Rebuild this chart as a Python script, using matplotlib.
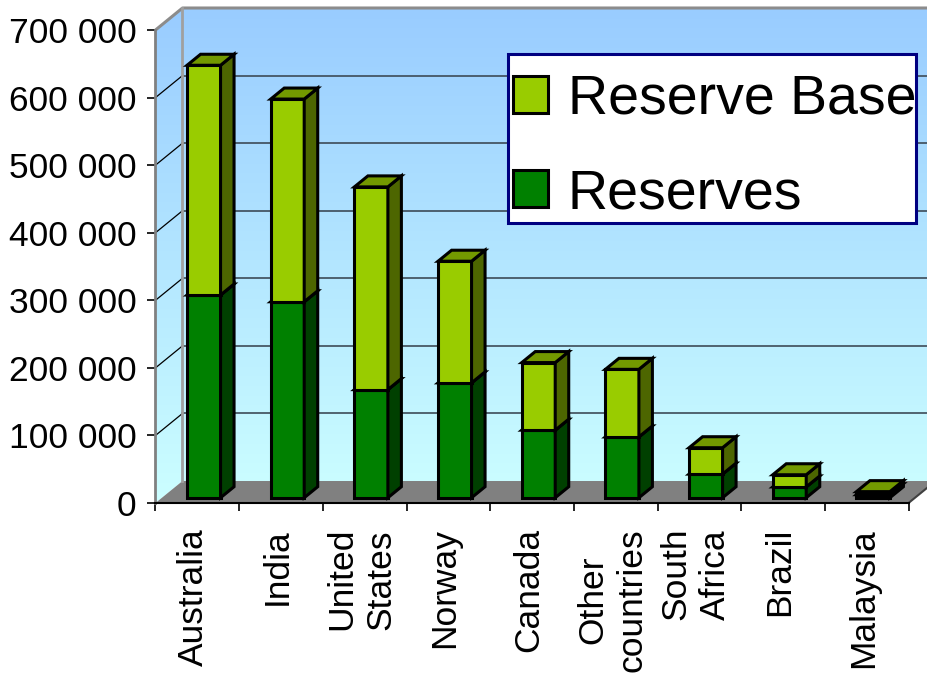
import matplotlib
matplotlib.use("Agg")
import matplotlib.pyplot as plt
import numpy as np
from matplotlib.patches import Polygon, Rectangle
from matplotlib.colors import LinearSegmentedColormap
from matplotlib.ticker import FuncFormatter
from matplotlib.transforms import ScaledTranslation

plt.rcParams['font.family'] = ['Liberation Sans', 'DejaVu Sans']

# Thorium reserves and reserve base by country (tonnes)
countries = ["Australia", "India", "United\nStates", "Norway", "Canada",
             "Other\ncountries", "South\nAfrica", "Brazil", "Malaysia"]
reserves = [300000, 290000, 160000, 170000, 100000, 90000, 35000, 16000, 4500]
reserve_base = [340000, 300000, 300000, 180000, 100000, 100000, 39000, 18000, 4500]
value_ticks = [0, 100000, 200000, 300000, 400000, 500000, 600000, 700000]

W, H = 927, 673
fig = plt.figure(figsize=(W / 100, H / 100), dpi=100)
ax = fig.add_axes([0, 0, 1, 1])

# pixel scale of the front plane
CAT_PX = 83.67
VAL_PX = 473 / 700000
OX, OY = 155.5, 503
ax.set_xlim(-0.5 - OX / CAT_PX, -0.5 + (W - OX) / CAT_PX)
ax.set_ylim(-(H - OY) / VAL_PX, OY / VAL_PX)

# depth of the 3-D box
DX = 27 / CAT_PX
DY = 22 / VAL_PX

n = len(countries)
x = np.arange(n)
res = np.array(reserves, dtype=float)
base = np.array(reserve_base, dtype=float)
ymax = value_ticks[-1]
x0, x1 = -0.5, n - 0.5

# walls with vertical gradient
wall = Polygon([(x0, 0), (x0 + DX, DY), (x1 + DX, DY), (x1 + DX, ymax + DY),
                (x0 + DX, ymax + DY), (x0, ymax)], closed=True,
               fc='none', ec='none', transform=ax.transData)
ax.add_patch(wall)
cmap = LinearSegmentedColormap.from_list("wall", ["#CCFFFF", "#99CCFF"])
im = ax.imshow(np.linspace(0, 1, 256).reshape(-1, 1), cmap=cmap,
               extent=(x0, x1 + DX, 0, ymax + DY), origin='lower',
               aspect='auto', interpolation='bilinear', zorder=0.5)
im.set_clip_path(wall)

# gridlines on the back and side walls
for v in value_ticks[1:-1]:
    ax.plot([x0 + DX, x1 + DX], [v + DY, v + DY], color='#3d4b58', lw=1.2, zorder=0.8)
    ax.plot([x0, x0 + DX], [v, v + DY], color='black', lw=0.9, zorder=0.8)

# floor
ax.add_patch(Polygon([(x0, 0), (x1, 0), (x1 + DX, DY), (x0 + DX, DY)],
                     closed=True, fc='#808080', ec='none', zorder=0.9))
ax.plot([x1, x1 + DX], [0, DY], color='#404040', lw=1.5, zorder=1)

# wall borders
ax.plot([x0, x0 + DX, x1 + DX + 1], [ymax, ymax + DY, ymax + DY],
        color='#8c8c8c', lw=2.2, zorder=1, solid_capstyle='butt')
ax.plot([x0 + DX, x0 + DX], [DY, ymax + DY], color='#a0a0a0', lw=2.0, zorder=1)

# bars
BW = 0.40
F0, F1 = 0.24, 0.74
ddx, ddy = (F1 - F0) * DX, (F1 - F0) * DY
EDGE = dict(edgecolor='black', linewidth=2.2, joinstyle='miter')

series = [
    (np.zeros(n), res, '#008000', '#004000', '#006600'),
    (res, base, '#99CC00', '#4D6600', '#739900'),
]
for bottoms, heights, c_front, c_side, c_top in series:
    ax.bar(x + F0 * DX, heights, bottom=bottoms + F0 * DY, width=BW,
           color=c_front, zorder=3, **EDGE)
    for xc, lo, h in zip(x, bottoms, heights):
        xl = xc - BW / 2 + F0 * DX
        xr = xl + BW
        y0 = lo + F0 * DY
        y1 = lo + h + F0 * DY
        ax.add_patch(Polygon([(xr, y0), (xr + ddx, y0 + ddy), (xr + ddx, y1 + ddy), (xr, y1)],
                             closed=True, fc=c_side, zorder=3, **EDGE))
        ax.add_patch(Polygon([(xl, y1), (xr, y1), (xr + ddx, y1 + ddy), (xl + ddx, y1 + ddy)],
                             closed=True, fc=c_top, zorder=3, **EDGE))

# axes
for s in ('top', 'right'):
    ax.spines[s].set_visible(False)
ax.spines['left'].set_position(('data', x0))
ax.spines['left'].set_bounds(0, ymax)
ax.spines['left'].set_color('#808080')
ax.spines['left'].set_linewidth(2)
ax.spines['bottom'].set_position(('data', 0))
ax.spines['bottom'].set_bounds(x0, x1)
ax.spines['bottom'].set_color('black')
ax.spines['bottom'].set_linewidth(1.5)
ax.spines['left'].set_zorder(2)
ax.spines['bottom'].set_zorder(2)

ax.set_yticks(value_ticks)
ax.yaxis.set_major_formatter(FuncFormatter(lambda v, _: f"{int(v):,}".replace(",", " ")))
ax.tick_params(axis='y', direction='out', length=5.5, width=1.2, color='black',
               pad=8, labelsize=25.5)
ax.set_xticks(np.arange(n + 1) - 0.5)
ax.tick_params(axis='x', direction='out', length=5.8, width=1.2, color='black',
               labelbottom=False)

lab_tr = ax.transData + ScaledTranslation(-3.5 / 100, -25 / 100, fig.dpi_scale_trans)
for xc, name in zip(x, countries):
    ax.text(xc, 0, name, transform=lab_tr, rotation=90, ha='center', va='top',
            multialignment='center', fontsize=25.5, linespacing=1.25)

# legend box
def frac(px, py):
    return px / W, 1 - py / H

leg = Rectangle(frac(508, 223), 408 / W, 169 / H, transform=ax.transAxes,
                fc='white', ec='#000080', lw=2.2, zorder=5)
ax.add_patch(leg)
entries = [("Reserve Base", '#99CC00', 76, 114), ("Reserves", '#008000', 170.5, 208.3)]
for label, col, top_px, base_px in entries:
    ax.add_patch(Rectangle(frac(512.5, top_px + 36.5), 35.5 / W, 36.5 / H,
                           transform=ax.transAxes, fc=col, ec='black', lw=2.2, zorder=6))
    t = ax.text(*frac(568, base_px), label, transform=ax.transAxes, fontsize=40,
                ha='left', va='baseline', zorder=6)
    t.set_clip_path(leg)

fig.savefig("out.png", dpi=100, facecolor='white')
